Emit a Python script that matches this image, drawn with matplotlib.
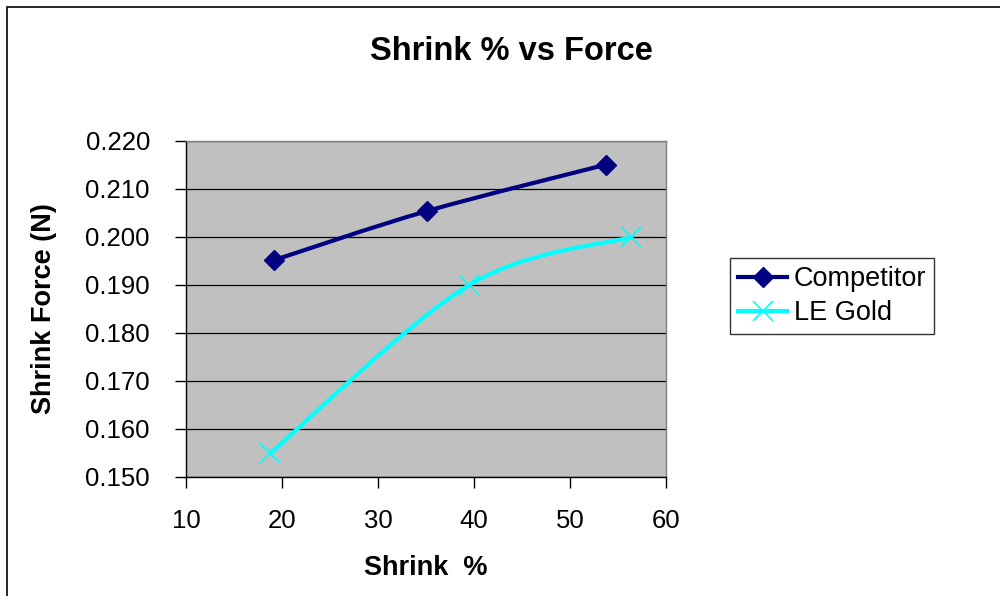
import matplotlib
matplotlib.use("Agg")
import matplotlib.pyplot as plt
import numpy as np
from matplotlib.path import Path
from matplotlib.patches import PathPatch, Rectangle
from matplotlib.lines import Line2D
from matplotlib.ticker import FormatStrFormatter

plt.rcParams['font.family'] = ['Liberation Sans', 'DejaVu Sans']

title = "Shrink % vs Force"
x_label = "Shrink  %"
y_label = "Shrink Force (N)"
series_names = ["Competitor", "LE Gold"]
competitor_x = [19.2, 35.1, 53.8]
competitor_y = [0.1952, 0.2054, 0.2151]
legold_x = [18.8, 39.5, 56.4]
legold_y = [0.155, 0.190, 0.200]
x_ticks = [10, 20, 30, 40, 50, 60]
y_ticks = [0.150, 0.160, 0.170, 0.180, 0.190, 0.200, 0.210, 0.220]

colors = ["#000080", "#00FFFF"]


def smooth_path(xs, ys):
    # Catmull-Rom style Bezier segments through the data points (Excel "smoothed line")
    pts = np.column_stack([xs, ys]).astype(float)
    n = len(pts)
    verts = [pts[0]]
    codes = [Path.MOVETO]
    for i in range(n - 1):
        p0 = pts[i - 1] if i > 0 else pts[i]
        p1 = pts[i]
        p2 = pts[i + 1]
        p3 = pts[i + 2] if i + 2 < n else pts[i + 1]
        c1 = p1 + (p2 - p0) / 6.0
        c2 = p2 - (p3 - p1) / 6.0
        verts += [c1, c2, p2]
        codes += [Path.CURVE4] * 3
    return Path(verts, codes)


fig = plt.figure(figsize=(10, 5.96), dpi=100)
fig.patch.set_facecolor("white")

# outer chart border
fig.patches.append(Rectangle((0.007, -0.05), 1.05, 1.05 - 0.012,
                             transform=fig.transFigure, fill=False,
                             edgecolor="black", linewidth=1.2))

ax = fig.add_axes([0.186, 1 - 477 / 596, 0.480, (477 - 141) / 596])
ax.set_facecolor("#C0C0C0")
ax.set_xlim(10, 60)
ax.set_ylim(0.150, 0.220)
ax.set_xticks(x_ticks)
ax.set_yticks(y_ticks)
ax.yaxis.set_major_formatter(FormatStrFormatter("%.3f"))
ax.grid(axis="y", color="black", linewidth=0.9)
ax.set_axisbelow(True)

for s in ["top", "right"]:
    ax.spines[s].set_color("#808080")
    ax.spines[s].set_linewidth(1.0)
for s in ["left", "bottom"]:
    ax.spines[s].set_color("black")
    ax.spines[s].set_linewidth(1.0)

ax.tick_params(axis="both", direction="out", length=8, width=1, labelsize=18.5)
ax.tick_params(axis="y", pad=18)
ax.tick_params(axis="x", pad=15)

for xs, ys, c in [(competitor_x, competitor_y, colors[0]), (legold_x, legold_y, colors[1])]:
    ax.add_patch(PathPatch(smooth_path(xs, ys), fill=False, edgecolor=c,
                           linewidth=3.0, zorder=3, capstyle="round", joinstyle="round"))

ax.plot(competitor_x, competitor_y, linestyle="none", marker="D", markersize=10.5,
        color=colors[0], zorder=4)
ax.plot(legold_x, legold_y, linestyle="none", marker="x", markersize=14,
        markeredgewidth=1.2, color=colors[1], zorder=4)

fig.text(0.511, 1 - 52 / 596, title, fontsize=23.5, fontweight="bold",
         ha="center", va="center")
ax.set_xlabel(x_label, fontsize=19.5, fontweight="bold", labelpad=16)
ax.set_ylabel(y_label, fontsize=19.5, fontweight="bold", labelpad=20)

handles = [
    Line2D([], [], color=colors[0], linewidth=3.0, marker="D", markersize=10.5),
    Line2D([], [], color=colors[1], linewidth=3.0, marker="x", markersize=14, markeredgewidth=1.2),
]
leg = fig.legend(handles, series_names, loc="upper left",
                 bbox_to_anchor=(0.730, 1 - 258 / 596), fontsize=19.5,
                 frameon=True, fancybox=False, shadow=False, handlelength=1.8,
                 handletextpad=0.25, borderpad=0.3, labelspacing=0.3,
                 borderaxespad=0)
leg.get_frame().set_edgecolor("black")
leg.get_frame().set_linewidth(1.0)

fig.savefig("out.png", dpi=100)
